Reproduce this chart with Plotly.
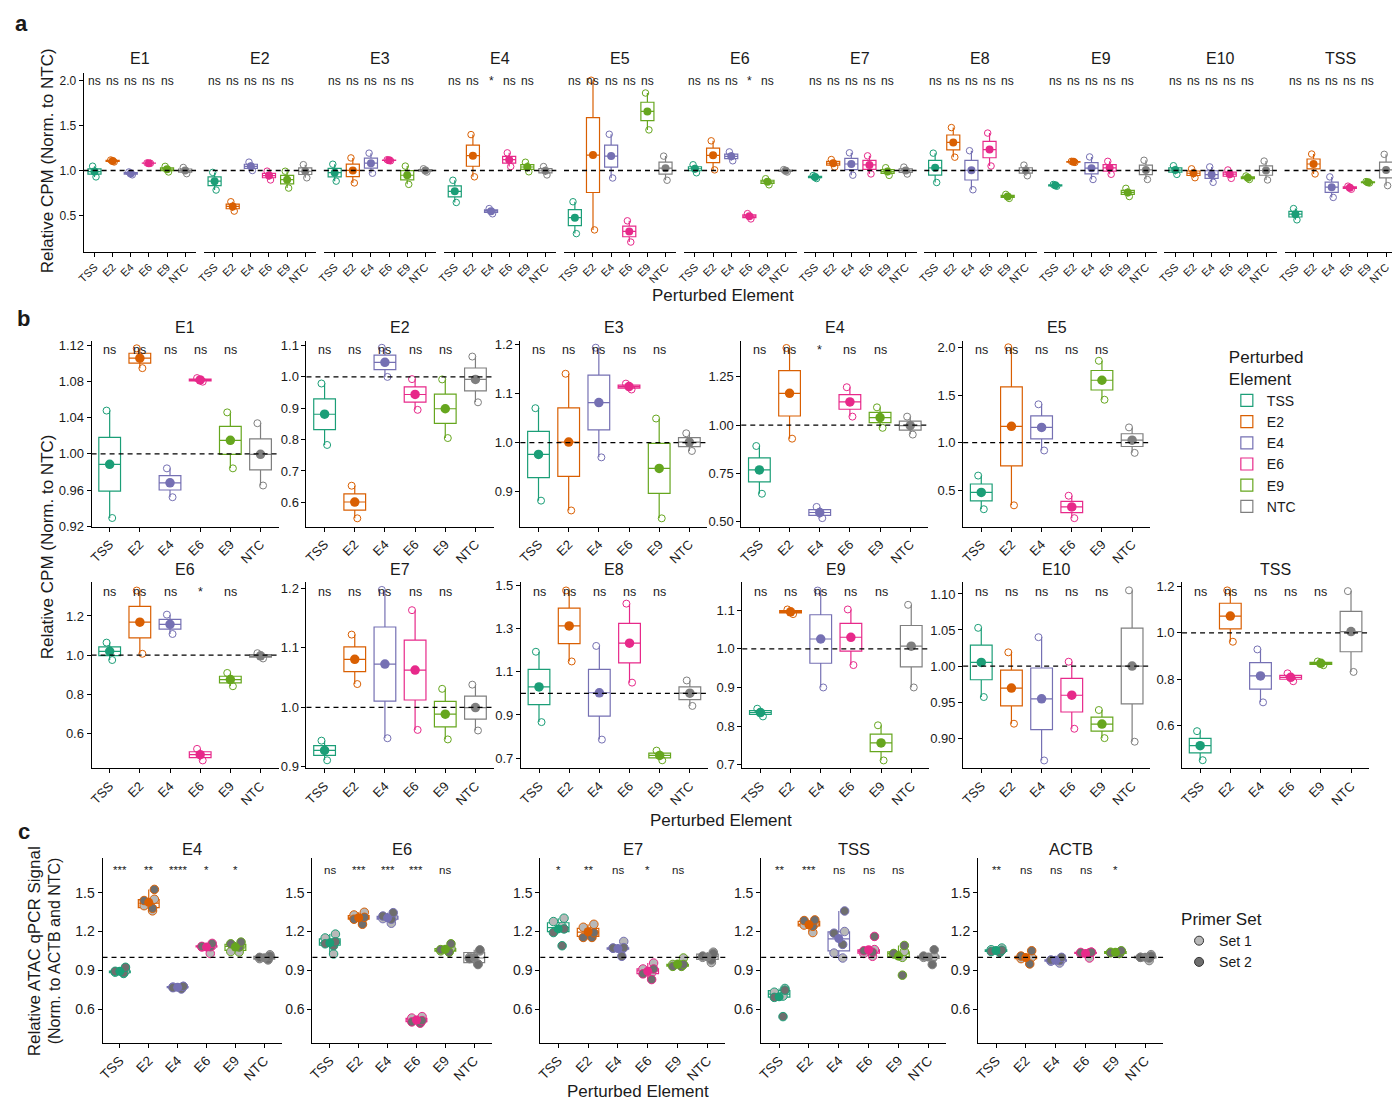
import numpy as np
import plotly.graph_objects as go

W, H = 1392, 1107

# ---------------- data ----------------
groups = ["TSS", "E2", "E4", "E6", "E9", "NTC"]
group_colors = ["#1B9E77", "#D95F02", "#7570B3", "#E7298A", "#66A61E", "#7F7F7F"]

facets_cpm = ["E1", "E2", "E3", "E4", "E5", "E6", "E7", "E8", "E9", "E10", "TSS"]

# replicate relative CPM values [rep1, rep2] per perturbed element (TSS, E2, E4, E6, E9, NTC)
cpm_E1 = [[1.048, 0.929], [1.117, 1.095], [0.984, 0.952], [1.084, 1.080], [1.046, 0.984], [1.034, 0.965]]
cpm_E2 = [[0.979, 0.783], [0.653, 0.549], [1.093, 1.000], [0.993, 0.895], [0.992, 0.805], [1.065, 0.919]]
cpm_E3 = [[1.070, 0.882], [1.140, 0.862], [1.193, 0.970], [1.120, 1.108], [1.049, 0.846], [1.019, 0.983]]
cpm_E4 = [[0.892, 0.645], [1.399, 0.930], [0.577, 0.519], [1.196, 1.044], [1.092, 0.986], [1.044, 0.951]]
cpm_E5 = [[0.653, 0.299], [2.003, 0.340], [1.403, 0.917], [0.441, 0.205], [1.861, 1.451], [1.160, 0.892]]
cpm_E6 = [[1.064, 0.975], [1.330, 1.007], [1.207, 1.108], [0.521, 0.462], [0.909, 0.841], [1.010, 0.983]]
cpm_E7 = [[0.944, 0.911], [1.122, 1.039], [1.197, 0.948], [1.163, 0.962], [1.031, 0.946], [1.038, 0.961]]
cpm_E8 = [[1.193, 0.867], [1.477, 1.148], [1.220, 0.786], [1.416, 1.050], [0.735, 0.690], [1.060, 0.942]]
cpm_E9 = [[0.845, 0.825], [1.090, 1.102], [1.151, 0.900], [1.102, 0.958], [0.802, 0.711], [1.114, 0.900]]
cpm_E10 = [[1.053, 0.957], [1.019, 0.920], [1.040, 0.869], [1.006, 0.913], [0.939, 0.900], [1.105, 0.895]]
cpm_TSS = [[0.577, 0.452], [1.183, 0.962], [0.929, 0.701], [0.826, 0.792], [0.877, 0.861], [1.180, 0.832]]

sig_cpm = [
    ["ns", "ns", "ns", "ns", "ns"],
    ["ns", "ns", "ns", "ns", "ns"],
    ["ns", "ns", "ns", "ns", "ns"],
    ["ns", "ns", "*", "ns", "ns"],
    ["ns", "ns", "ns", "ns", "ns"],
    ["ns", "ns", "ns", "*", "ns"],
    ["ns", "ns", "ns", "ns", "ns"],
    ["ns", "ns", "ns", "ns", "ns"],
    ["ns", "ns", "ns", "ns", "ns"],
    ["ns", "ns", "ns", "ns", "ns"],
    ["ns", "ns", "ns", "ns", "ns"],
]

# panel a tick labels
ticks_a = [0.5, 1.0, 1.5, 2.0]
# panel b tick labels per facet
ticks_b = [
    [0.92, 0.96, 1.00, 1.04, 1.08, 1.12],
    [0.6, 0.7, 0.8, 0.9, 1.0, 1.1],
    [0.9, 1.0, 1.1, 1.2],
    [0.50, 0.75, 1.00, 1.25],
    [0.5, 1.0, 1.5, 2.0],
    [0.6, 0.8, 1.0, 1.2],
    [0.9, 1.0, 1.1, 1.2],
    [0.7, 0.9, 1.1, 1.3, 1.5],
    [0.7, 0.8, 0.9, 1.0, 1.1],
    [0.90, 0.95, 1.00, 1.05, 1.10],
    [0.6, 0.8, 1.0, 1.2],
]
ticks_b_decimals = [2, 1, 1, 2, 1, 1, 1, 1, 1, 2, 1]

# panel c: ATAC qPCR, Set 1 / Set 2 replicate values per perturbed element
facets_atac = ["E4", "E6", "E7", "TSS", "ACTB"]
atac_E4_set1 = [[0.875, 0.885, 0.895], [1.36, 1.45, 1.40], [0.775, 0.770, 0.765], [1.03, 1.08, 1.09], [1.041, 1.045, 1.09], [1.02, 0.99, 0.98]]
atac_E4_set2 = [[0.923, 0.892, 0.880], [1.526, 1.44, 1.38], [0.755, 0.765, 0.775], [1.108, 1.082, 1.085], [1.118, 1.105, 1.08], [1.0, 0.985, 1.01]]
atac_E6_set1 = [[1.18, 1.15, 1.026], [1.349, 1.328, 1.30], [1.264, 1.30, 1.31], [0.541, 0.52, 0.53], [1.046, 1.05, 1.07], [1.05, 0.949, 1.0]]
atac_E6_set2 = [[1.105, 1.12, 1.09], [1.295, 1.256, 1.31], [1.346, 1.295, 1.32], [0.49, 0.51, 0.50], [1.105, 1.04, 1.06], [1.058, 0.944, 0.99]]
atac_E7_set1 = [[1.303, 1.277, 1.24], [1.256, 1.233, 1.20], [1.123, 1.07, 1.06], [0.956, 0.91, 0.88], [0.995, 0.945, 0.94], [1.04, 0.96, 1.0]]
atac_E7_set2 = [[1.192, 1.09, 1.22], [1.154, 1.154, 1.19], [1.072, 1.008, 1.075], [0.91, 0.872, 0.828], [0.93, 0.93, 0.945], [1.03, 0.98, 1.01]]
atac_TSS_set1 = [[0.759, 0.73, 0.70], [1.26, 1.192, 1.25], [1.033, 0.995, 1.20], [1.008, 1.03, 1.06], [1.046, 1.026, 1.0], [1.008, 0.99, 1.0]]
atac_TSS_set2 = [[0.746, 0.541, 0.69], [1.29, 1.285, 1.24], [1.359, 1.187, 1.10], [1.162, 1.051, 1.04], [1.092, 0.862, 1.03], [1.059, 0.944, 1.01]]
atac_ACTB_set1 = [[1.072, 1.059, 1.05], [0.99, 0.99, 1.0], [0.956, 0.97, 0.98], [0.995, 1.04, 1.03], [1.046, 1.03, 1.04], [1.021, 0.975, 1.0]]
atac_ACTB_set2 = [[1.038, 1.055, 1.045], [1.051, 0.949, 1.01], [1.0, 0.98, 0.975], [1.038, 1.04, 1.035], [1.051, 1.03, 1.035], [0.995, 1.0, 1.01]]

sig_atac = [
    ["***", "**", "****", "*", "*"],
    ["ns", "***", "***", "***", "ns"],
    ["*", "**", "ns", "*", "ns"],
    ["**", "***", "ns", "ns", "ns"],
    ["**", "ns", "ns", "ns", "*"],
]
ticks_c = [0.6, 0.9, 1.2, 1.5]
set_colors = ["#B8B8B8", "#6E6E6E"]
set_names = ["Set 1", "Set 2"]

cpm_data = [cpm_E1, cpm_E2, cpm_E3, cpm_E4, cpm_E5, cpm_E6, cpm_E7, cpm_E8, cpm_E9, cpm_E10, cpm_TSS]
atac_data = [
    (atac_E4_set1, atac_E4_set2), (atac_E6_set1, atac_E6_set2), (atac_E7_set1, atac_E7_set2),
    (atac_TSS_set1, atac_TSS_set2), (atac_ACTB_set1, atac_ACTB_set2),
]

# ---------------- helpers ----------------
FONT = "Liberation Sans, Arial, Helvetica, sans-serif"
TXT = "#1a1a1a"
fig = go.Figure()
axes_layout = {}
shapes = []
annotations = []
counter = [0]


def box_stats(v):
    v = np.asarray(v, dtype=float)
    q1, med, q3 = np.percentile(v, [25, 50, 75])
    iqr = q3 - q1
    lf = float(v[v >= q1 - 1.5 * iqr].min())
    uf = float(v[v <= q3 + 1.5 * iqr].max())
    return float(q1), float(med), float(q3), lf, uf


def make_axes(px0, px1, py0, py1, yrange, xrange, show_y, yticks=None, ydec=1, xfont=12, yfont=12):
    counter[0] += 1
    n = counter[0]
    s = "" if n == 1 else str(n)
    axes_layout["xaxis" + s] = dict(
        domain=[px0 / W, px1 / W], anchor="y" + s, type="category",
        categoryorder="array", categoryarray=groups, range=list(xrange),
        showline=True, linecolor="black", linewidth=1, ticks="outside", ticklen=4,
        tickwidth=1, tickcolor="black", tickangle=-45,
        tickfont=dict(size=xfont, color=TXT, family=FONT), showgrid=False, zeroline=False,
    )
    yd = dict(domain=[1 - py1 / H, 1 - py0 / H], anchor="x" + s, range=list(yrange),
              showgrid=False, zeroline=False)
    if show_y:
        yd.update(showline=True, linecolor="black", linewidth=1, ticks="outside", ticklen=4,
                  tickwidth=1, tickcolor="black", tickvals=yticks,
                  ticktext=[f"{v:.{ydec}f}" for v in yticks],
                  tickfont=dict(size=yfont, color=TXT, family=FONT))
    else:
        yd.update(showline=False, showticklabels=False, ticks="")
    axes_layout["yaxis" + s] = yd
    return "x" + s, "y" + s


def add_hline(xr, yr):
    shapes.append(dict(type="line", xref=f"{xr} domain", yref=yr, x0=0, x1=1, y0=1, y1=1,
                       line=dict(color="black", width=1.3, dash="5px,4px")))


def add_sig(xr, yr, labels, size, ypos):
    for i, lab in enumerate(labels):
        annotations.append(dict(xref=xr, yref=f"{yr} domain", x=i, y=ypos, text=lab,
                                showarrow=False, yanchor="middle",
                                font=dict(size=size, color=TXT, family=FONT)))


def add_text(x, y, text, size, angle=0, bold=False, xanchor="center"):
    annotations.append(dict(xref="paper", yref="paper", x=x / W, y=1 - y / H,
                            text=f"<b>{text}</b>" if bold else text, showarrow=False,
                            textangle=angle, xanchor=xanchor, yanchor="middle",
                            font=dict(size=size, color=TXT, family=FONT)))


def add_box(xr, yr, g, c, values, legend=False):
    q1, med, q3, lf, uf = box_stats(values)
    fig.add_trace(go.Box(
        x=[g], q1=[q1], median=[med], q3=[q3], lowerfence=[lf], upperfence=[uf],
        name=g, xaxis=xr, yaxis=yr, boxpoints=False, width=0.72, whiskerwidth=0,
        line=dict(color=c, width=1.2), fillcolor="rgba(255,255,255,0)",
        showlegend=legend, hoverinfo="skip"))


def add_points(xr, yr, g, values, jitter, marker):
    fig.add_trace(go.Box(
        x=[g] * len(values), y=values, xaxis=xr, yaxis=yr, boxpoints="all", jitter=jitter,
        pointpos=0, width=0.72, whiskerwidth=0, line=dict(color="rgba(0,0,0,0)", width=0),
        fillcolor="rgba(0,0,0,0)", marker=marker, showlegend=False, hoverinfo="skip"))


def add_means(xr, yr, means, size):
    fig.add_trace(go.Scatter(x=groups, y=means, mode="markers", xaxis=xr, yaxis=yr,
                             marker=dict(color=group_colors, size=size),
                             showlegend=False, hoverinfo="skip"))


def add_cpm_facet(vals, xr, yr, pt_size, mean_size, legend):
    for gi, g in enumerate(groups):
        c = group_colors[gi]
        add_box(xr, yr, g, c, vals[gi], legend)
        add_points(xr, yr, g, vals[gi], 0.45,
                   dict(symbol="circle-open", size=pt_size, color=c, line=dict(width=1, color=c)))
    add_means(xr, yr, [float(np.mean(v)) for v in vals], mean_size)


# ---------------- panel a ----------------
a_top, a_bot = 70, 250
a_w = 113
for i, f in enumerate(facets_cpm):
    x0 = 77 + 120.7 * i
    x1 = min(x0 + a_w, W)
    xr_end = -0.6 + (x1 - x0) / a_w * 6.2
    xr, yr = make_axes(x0, x1, a_top, a_bot, (0.1, 2.08), (-0.6, xr_end), i == 0,
                       ticks_a, 1, xfont=11, yfont=12)
    add_cpm_facet(cpm_data[i], xr, yr, 6.5, 8, False)
    add_hline(xr, yr)
    add_sig(xr, yr, sig_cpm[i], 12, 0.955)
    add_text(x0 + a_w / 2, 55, f, 16)

# ---------------- panel b ----------------
b_x0 = [85, 301, 516, 738, 961, 85, 301, 516.5, 739, 961, 1181]
b_rows = [(340, 528)] * 5 + [(584, 772)] * 6
b_title_y = [327] * 5 + [571] * 6
b_ranges = [
    (0.9193, 1.1255), (0.5221, 1.1158), (0.8289, 1.2074), (0.4744, 1.437), (0.1146, 2.073),
    (0.4216, 1.3727), (0.8975, 1.21), (0.6529, 1.5153), (0.6906, 1.1726), (0.8581, 1.1163),
    (0.417, 1.2184),
]
b_w = 188
for i, f in enumerate(facets_cpm):
    x0 = b_x0[i]
    py0, py1 = b_rows[i]
    xr, yr = make_axes(x0, x0 + b_w, py0, py1, b_ranges[i], (-0.6, 5.6), True,
                       ticks_b[i], ticks_b_decimals[i], xfont=13, yfont=13)
    add_cpm_facet(cpm_data[i], xr, yr, 7, 9.5, i == 0)
    add_hline(xr, yr)
    add_sig(xr, yr, sig_cpm[i], 12.5, 0.95)
    add_text(x0 + b_w / 2, b_title_y[i], f, 16)

# ---------------- panel c ----------------
c_x = [(96, 276), (307, 487), (536, 722), (758, 944), (976, 1162)]
c_top, c_bot = 863, 1049
first_c = None
for i, f in enumerate(facets_atac):
    x0, x1 = c_x[i]
    xr, yr = make_axes(x0, x1, c_top, c_bot, (0.34, 1.766), (-0.6, 5.6), True,
                       ticks_c, 1, xfont=13.5, yfont=14)
    if first_c is None:
        first_c = (xr, yr)
    s1, s2 = atac_data[i]
    for gi, g in enumerate(groups):
        c = group_colors[gi]
        add_box(xr, yr, g, c, list(s1[gi]) + list(s2[gi]))
        for si, sv in enumerate((s1[gi], s2[gi])):
            add_points(xr, yr, g, sv, 0.7,
                       dict(symbol="circle", size=8.5, color=set_colors[si],
                            line=dict(color=c, width=1)))
    add_means(xr, yr, [float(np.mean(list(s1[gi]) + list(s2[gi]))) for gi in range(len(groups))], 9)
    add_hline(xr, yr)
    add_sig(xr, yr, sig_atac[i], 11.5, 0.935)
    add_text((x0 + x1) / 2, 853, f, 16.5)

# legend entries for primer sets
for si in range(2):
    fig.add_trace(go.Scatter(x=[None], y=[None], mode="markers", name=set_names[si],
                             xaxis=first_c[0], yaxis=first_c[1], legend="legend2",
                             marker=dict(size=9, color=set_colors[si],
                                         line=dict(color="#333333", width=1)),
                             hoverinfo="skip"))

# ---------------- text ----------------
add_text(15, 20, "a", 22, bold=True)
add_text(17, 318, "b", 22, bold=True)
add_text(17, 836, "c", 22, bold=True)

add_text(41, 158, "Relative CPM (Norm. to NTC)", 17, angle=-90)
add_text(41, 548, "Relative CPM (Norm. to NTC)", 17, angle=-90)
add_text(28, 957, "Relative ATAC qPCR Signal", 17, angle=-90)
add_text(48, 956, "(Norm. to ACTB and NTC)", 16, angle=-90)

add_text(720, 294, "Perturbed Element", 17)
add_text(718, 825, "Perturbed Element", 17)
add_text(634, 1098, "Perturbed Element", 17)

fig.update_layout(
    width=W, height=H, margin=dict(l=0, r=0, t=0, b=0),
    paper_bgcolor="white", plot_bgcolor="white",
    font=dict(family=FONT, color=TXT),
    hovermode=False, boxmode="overlay",
    shapes=shapes, annotations=annotations,
    legend=dict(x=1226 / W, y=1 - 340 / H, xanchor="left", yanchor="top",
                title=dict(text="Perturbed<br>Element", font=dict(size=17, family=FONT)),
                font=dict(size=14, family=FONT), bgcolor="rgba(0,0,0,0)",
                tracegroupgap=0, itemwidth=30),
    legend2=dict(x=1178 / W, y=1 - 908 / H, xanchor="left", yanchor="top",
                 title=dict(text="Primer Set", font=dict(size=17, family=FONT)),
                 font=dict(size=14, family=FONT), bgcolor="rgba(0,0,0,0)",
                 tracegroupgap=0, itemwidth=30),
    **axes_layout,
)

fig.write_html("out.html", config={"displayModeBar": False},
               post_script="document.body.style.margin='0';document.body.style.overflow='hidden';")
